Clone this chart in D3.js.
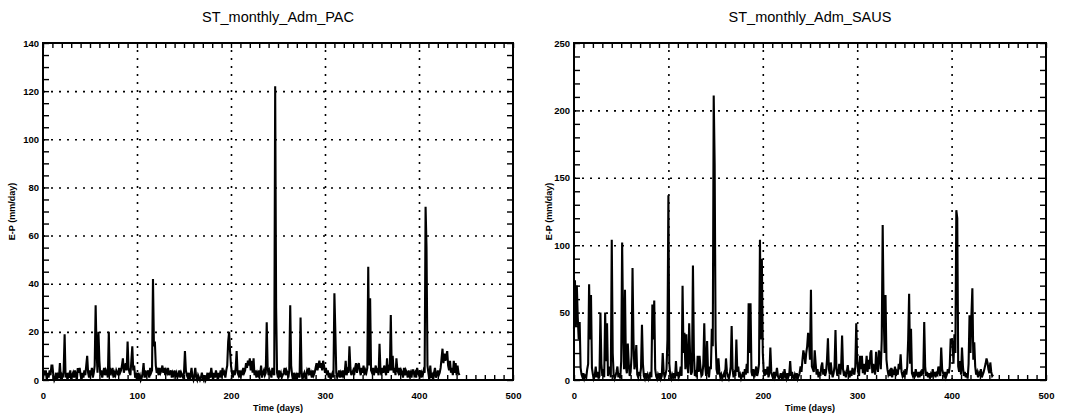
<!DOCTYPE html>
<html lang="en">
<head>
<meta charset="UTF-8">
<title>ST_monthly_Adm</title>
<script src="https://d3js.org/d3.v7.min.js"></script>
<style>
  body { margin: 0; background: #fff; }
  svg { display: block; font-family: "Liberation Sans", Arial, Helvetica, sans-serif; }
  .tick text { font-size: 9.5px; font-weight: bold; fill: #000; }
  .title { font-size: 14.5px; }
  .label { font-size: 9px; font-weight: bold; }
</style>
</head>
<body>
<svg width="1066" height="417"></svg>
<script>
// E-P (mm/day), one value per day
var pacValues = [
  1,4,2,4,0,3,1,4,2,6, 6,2,0,1,3,0,2,1,7,0, 2,1,4,19,1,3,0,2,1,4, 0,2,3,1,4,2,0,5,3,5,
  2,0,3,1,4,2,6,10,3,1, 4,2,5,1,3,6,31,12,3,20, 8,2,4,1,3,5,2,4,3,1, 20,2,4,3,5,1,3,2,4,3,
  2,5,3,4,6,9,3,5,7,4, 16,5,3,2,8,14,4,6,1,2, 0,3,1,2,0,1,3,7,1,4, 2,3,4,1,5,3,4,42,14,16,
  6,3,4,2,5,3,4,6,3,5, 2,4,3,5,2,3,4,1,3,2, 4,2,3,1,2,4,1,3,2,1, 3,12,4,2,1,3,0,2,5,1,
  0,2,5,1,0,2,1,0,1,3, 1,0,2,0,1,3,0,2,1,5, 2,0,3,1,4,2,0,3,2,4, 1,5,2,3,1,4,6,16,20,12,
  6,3,1,4,2,5,12,3,2,4, 1,3,2,5,3,4,7,5,8,6, 9,4,8,3,9,2,4,1,3,2, 4,2,6,1,3,4,2,3,24,5,
  2,4,3,1,5,3,2,122,30,3, 1,4,2,3,1,2,3,5,2,4, 3,1,4,31,6,2,0,3,1,2, 0,3,2,1,26,4,0,2,3,1,
  2,4,3,5,2,3,1,4,2,3, 5,7,4,6,8,5,7,4,8,6, 3,5,2,4,1,3,0,2,3,1, 36,20,3,1,2,4,1,3,2,4,
  1,3,8,2,4,3,14,5,2,3, 4,2,5,7,3,6,7,4,2,5, 3,6,2,4,3,5,47,6,34,4, 3,5,2,4,6,3,4,2,15,4,
  2,5,3,6,4,2,9,3,5,4, 27,4,10,3,5,2,9,4,3,5, 2,4,3,1,5,2,4,3,1,4, 2,3,1,4,4,2,3,1,5,3,
  2,4,1,3,2,4,3,72,55,6, 3,0,6,1,2,0,3,5,1,2, 4,2,3,5,9,13,7,11,8,10, 12,6,4,8,3,5,2,8,3,7,
  2,6,3,2
];

var sausValues = [
  38,74,40,70,46,30,43,9,4,2, 5,1,3,2,8,12,71,30,63,9, 4,1,3,10,2,6,1,3,50,12, 3,8,2,50,14,42,3,6,10,2,
  104,20,4,1,3,6,10,2,5,1, 14,102,40,8,67,10,5,27,12,3, 6,18,83,30,8,12,26,4,2,6, 3,9,41,12,3,1,5,2,4,1,
  3,6,2,56,30,59,8,3,1,4, 2,5,1,3,20,6,2,4,8,30, 137,12,3,1,4,2,5,1,14,3, 6,2,4,10,3,70,20,35,8,34,
  12,5,42,18,4,6,85,20,3,5, 2,18,6,18,9,3,4,12,42,10, 3,29,6,2,10,8,38,25,211,160, 30,8,4,16,6,2,4,1,3,5,
  2,16,6,3,1,4,10,40,8,2, 5,3,30,6,10,2,4,1,3,6, 2,8,4,12,5,57,20,57,6,3, 8,2,5,10,3,6,12,104,30,90,
  20,6,3,8,4,10,2,5,24,6, 3,1,6,2,4,9,3,1,2,5, 2,4,1,8,3,1,5,2,4,14, 3,6,2,1,4,2,5,1,3,5,
  10,6,15,22,18,12,20,25,35,28, 15,67,10,8,6,22,12,4,8,2, 6,3,10,13,4,8,3,6,15,31, 8,4,13,6,2,5,10,37,8,3,
  6,12,4,10,33,8,3,5,2,6, 11,4,2,7,3,9,6,4,10,42, 15,6,3,18,8,18,5,12,4,9, 18,6,15,8,20,22,5,12,8,4,
  21,10,6,22,18,8,30,115,50,20, 63,15,8,4,6,3,9,2,6,4, 10,3,6,4,12,8,19,6,3,5, 2,8,4,10,30,64,12,38,5,3,
  6,2,8,4,3,6,2,5,3,8, 4,43,10,3,6,2,5,1,4,2, 8,3,6,2,5,4,10,6,3,24, 8,5,3,6,2,4,8,5,10,30,
  30,28,12,34,20,126,120,10,6,14, 4,24,10,3,6,2,5,1,12,48, 20,48,68,15,28,10,4,6,2,5, 3,8,2,4,6,9,12,16,13,8,
  5,13,6,3,4
];

var titles = ["ST_monthly_Adm_PAC", "ST_monthly_Adm_SAUS"];
var xTicks = [0, 100, 200, 300, 400, 500];
var pacTicks = [0, 20, 40, 60, 80, 100, 120, 140];
var sausTicks = [0, 50, 100, 150, 200, 250];

var svg = d3.select("svg");

var panels = [
  { title: titles[0], values: pacValues, yTicks: pacTicks, yMinor: 5,  x0: 43,  x1: 513, labelX: 12 },
  { title: titles[1], values: sausValues, yTicks: sausTicks, yMinor: 10, x0: 574, x1: 1046, labelX: 549 }
];

var plotTop = 43, plotBottom = 380;

function styleGrid(g) {
  g.select(".domain").remove();
  g.selectAll("line")
    .attr("stroke", "#000")
    .attr("stroke-width", 1.6)
    .attr("stroke-dasharray", "2,6");
}

function styleMinor(g) {
  g.select(".domain").remove();
  g.selectAll("line").attr("stroke", "#000").attr("stroke-width", 1.4);
}

panels.forEach(function (p) {
  var yMax = p.yTicks[p.yTicks.length - 1];
  var x = d3.scaleLinear().domain([0, 500]).range([p.x0, p.x1]);
  var y = d3.scaleLinear().domain([0, yMax]).range([plotBottom, plotTop]);
  var w = p.x1 - p.x0, h = plotBottom - plotTop;

  var inner = function (arr) { return arr.filter(function (v, i) { return i > 0 && i < arr.length - 1; }); };

  // grid (major ticks drawn full length, dotted)
  svg.append("g")
    .attr("transform", "translate(0," + plotBottom + ")")
    .call(d3.axisBottom(x).tickValues(inner(xTicks)).tickSize(-h).tickFormat(""))
    .call(styleGrid);
  svg.append("g")
    .attr("transform", "translate(" + p.x0 + ",0)")
    .call(d3.axisLeft(y).tickValues(inner(p.yTicks)).tickSize(-w).tickFormat(""))
    .call(styleGrid);

  // minor ticks on all four sides
  var xMinor = d3.range(0, 501, 10);
  var yMinor = d3.range(0, yMax + 0.1, p.yMinor);
  svg.append("g").attr("transform", "translate(0," + plotBottom + ")")
    .call(d3.axisBottom(x).tickValues(xMinor).tickSize(-5).tickFormat("")).call(styleMinor);
  svg.append("g").attr("transform", "translate(0," + plotTop + ")")
    .call(d3.axisTop(x).tickValues(xMinor).tickSize(-5).tickFormat("")).call(styleMinor);
  svg.append("g").attr("transform", "translate(" + p.x0 + ",0)")
    .call(d3.axisLeft(y).tickValues(yMinor).tickSize(-6).tickFormat("")).call(styleMinor);
  svg.append("g").attr("transform", "translate(" + p.x1 + ",0)")
    .call(d3.axisRight(y).tickValues(yMinor).tickSize(-6).tickFormat("")).call(styleMinor);

  // tick labels
  svg.append("g").attr("transform", "translate(0," + plotBottom + ")")
    .call(d3.axisBottom(x).tickValues(xTicks).tickSize(0).tickPadding(12).tickFormat(d3.format("d")))
    .call(function (g) { g.select(".domain").remove(); });
  svg.append("g").attr("transform", "translate(" + p.x0 + ",0)")
    .call(d3.axisLeft(y).tickValues(p.yTicks).tickSize(0).tickPadding(4).tickFormat(d3.format("d")))
    .call(function (g) { g.select(".domain").remove(); });

  // series
  var line = d3.line()
    .x(function (d, i) { return x(i); })
    .y(function (d) { return y(d); });
  svg.append("path")
    .datum(p.values)
    .attr("fill", "none")
    .attr("stroke", "#000")
    .attr("stroke-width", 2.1)
    .attr("stroke-linejoin", "miter")
    .attr("d", line);

  // frame
  svg.append("rect")
    .attr("x", p.x0).attr("y", plotTop)
    .attr("width", w).attr("height", h)
    .attr("fill", "none").attr("stroke", "#000").attr("stroke-width", 2);

  // titles
  svg.append("text").attr("class", "title")
    .attr("x", (p.x0 + p.x1) / 2).attr("y", 22)
    .attr("text-anchor", "middle").text(p.title);
  svg.append("text").attr("class", "label")
    .attr("x", (p.x0 + p.x1) / 2).attr("y", 411)
    .attr("text-anchor", "middle").text("Time (days)");
  svg.append("text").attr("class", "label")
    .attr("transform", "translate(" + p.labelX + "," + ((plotTop + plotBottom) / 2) + ") rotate(-90)")
    .attr("text-anchor", "middle").attr("dy", "0.35em").text("E-P (mm/day)");
});
</script>
</body>
</html>
